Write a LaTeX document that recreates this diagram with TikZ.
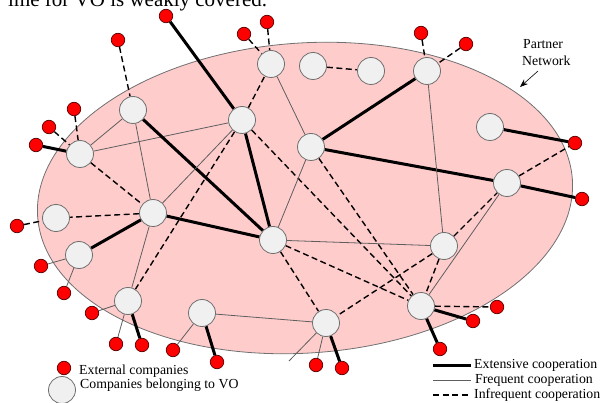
\documentclass[tikz,border=0pt]{standalone}
\usepackage{fontspec}
\setmainfont{Liberation Serif}
\usetikzlibrary{arrows.meta}
\pgfdeclarelayer{bg}
\pgfdeclarelayer{edges}
\pgfsetlayers{bg,edges,main}
\definecolor{netpink}{HTML}{FFCCCC}
\definecolor{netbord}{HTML}{707070}
\definecolor{vogray}{HTML}{F0F0F0}
\definecolor{vobord}{HTML}{6E6E6E}
\definecolor{extbord}{HTML}{5A0000}
\definecolor{freqgray}{HTML}{5E5E5E}
\begin{document}
\begin{tikzpicture}[x=1pt,y=-1pt,
  vo/.style={circle,fill=vogray,draw=vobord,line width=0.8pt,minimum size=27pt,inner sep=0pt},
  ext/.style={circle,fill=red,draw=extbord,line width=0.7pt,minimum size=13.5pt,inner sep=0pt},
  extensive/.style={line width=3pt,black},
  frequent/.style={line width=0.8pt,freqgray},
  infrequent/.style={line width=1.4pt,black,dash pattern=on 6pt off 3.5pt},
  lbl/.style={font=\fontsize{13.8}{16}\selectfont,inner sep=0pt,anchor=base west}]
\useasboundingbox (0,0) rectangle (602,403);

% clipped text line at the top
\node[font=\fontsize{21}{24}\selectfont,inner sep=0pt,anchor=base west] (toptext) at (8,6.5) {ime for VO is weakly covered.};

% ellipse
\begin{pgfonlayer}{bg}
\draw[fill=netpink,draw=netbord,line width=0.8pt,rotate around={4:(305,198)}] (305,198) ellipse [x radius=268, y radius=155];
\end{pgfonlayer}

% VO companies
\node[vo] (A) at (80,154) {};
\node[vo] (B) at (133,110) {};
\node[vo] (C) at (242,120) {};
\node[vo] (D) at (271,64) {};
\node[vo] (E) at (313,66) {};
\node[vo] (F) at (371,71) {};
\node[vo] (G) at (427,71) {};
\node[vo] (H) at (490,127) {};
\node[vo] (I) at (311,147) {};
\node[vo] (J) at (507,183) {};
\node[vo] (K) at (153,213) {};
\node[vo] (L) at (56,218) {};
\node[vo] (M) at (79,255) {};
\node[vo] (N) at (273,240) {};
\node[vo] (O) at (444,246) {};
\node[vo] (P) at (128,301) {};
\node[vo] (Q) at (202,313) {};
\node[vo] (R) at (326,323) {};
\node[vo] (S) at (421,306) {};

% external companies
\node[ext] (e1) at (118,40) {};
\node[ext] (e2) at (166,16) {};
\node[ext] (e3) at (244,34) {};
\node[ext] (e4) at (267,22) {};
\node[ext] (e5) at (74,109) {};
\node[ext] (e6) at (49,127) {};
\node[ext] (e7) at (36,145) {};
\node[ext] (e8) at (421,33) {};
\node[ext] (e9) at (466,44) {};
\node[ext] (e10) at (575,143) {};
\node[ext] (e11) at (582,199) {};
\node[ext] (e12) at (17,226) {};
\node[ext] (e13) at (41,266) {};
\node[ext] (e14) at (64,293) {};
\node[ext] (e15) at (92,313) {};
\node[ext] (e16) at (116,344) {};
\node[ext] (e17) at (142,345) {};
\node[ext] (e18) at (173,350) {};
\node[ext] (e19) at (217,362) {};
\node[ext] (e20) at (316,365) {};
\node[ext] (e21) at (342,368) {};
\node[ext] (e22) at (473,321) {};
\node[ext] (e23) at (497,307) {};
\node[ext] (e24) at (440,349) {};
\coordinate (rfree) at (289,361);

\begin{pgfonlayer}{edges}
% external links
\draw[infrequent] (e1) -- (B);
\draw[extensive] (e2) -- (C);
\draw[infrequent] (e3) -- (D);
\draw[infrequent] (e4) -- (D);
\draw[infrequent] (e5) -- (A);
\draw[infrequent] (e6) -- (A);
\draw[extensive] (e7) -- (A);
\draw[infrequent] (e8) -- (G);
\draw[infrequent] (e9) -- (G);
\draw[extensive] (H) -- (e10);
\draw[infrequent] (J) -- (e10);
\draw[extensive] (J) -- (e11);
\draw[infrequent] (e12) -- (L);
\draw[frequent] (e13) -- (M);
\draw[frequent] (e14) -- (M);
\draw[frequent] (e15) -- (P);
\draw[frequent] (e16) -- (P);
\draw[extensive] (e17) -- (P);
\draw[frequent] (e18) -- (Q);
\draw[extensive] (e19) -- (Q);
\draw[frequent] (e20) -- (R);
\draw[extensive] (e21) -- (R);
\draw[extensive] (S) -- (e22);
\draw[infrequent] (S) -- (e23);
\draw[extensive] (S) -- (e24);
\draw[frequent] (R) -- (rfree);
% internal links
\draw[frequent] (A) -- (B);
\draw[frequent] (A) -- (C);
\draw[infrequent] (A) -- (K);
\draw[frequent] (B) -- (K);
\draw[extensive] (B) -- (N);
\draw[infrequent] (C) -- (D);
\draw[frequent] (C) -- (K);
\draw[infrequent] (C) -- (P);
\draw[extensive] (C) -- (N);
\draw[infrequent] (C) -- (S);
\draw[frequent] (D) -- (I);
\draw[frequent] (I) -- (N);
\draw[extensive] (I) -- (G);
\draw[extensive] (I) -- (J);
\draw[infrequent] (I) -- (S);
\draw[infrequent] (E) -- (F);
\draw[frequent] (G) -- (O);
\draw[infrequent] (K) -- (L);
\draw[extensive] (K) -- (M);
\draw[extensive] (K) -- (N);
\draw[frequent] (K) -- (P);
\draw[frequent] (N) -- (O);
\draw[infrequent] (N) -- (S);
\draw[infrequent] (N) -- (R);
\draw[infrequent] (O) -- (J);
\draw[infrequent] (O) -- (S);
\draw[infrequent] (O) -- (R);
\draw[frequent] (J) -- (S);
\draw[frequent] (Q) -- (R);
\end{pgfonlayer}

% Partner Network label
\node[lbl] (pn1) at (523,49) {Partner};
\node[lbl] (pn2) at (522,66) {Network};
\coordinate (pnfrom) at (538,71);
\coordinate (pnto) at (520,87);
\draw[line width=0.6pt,-{Stealth[length=8pt,width=6pt]}] (pnfrom) -- (pnto);

% legend left
\node[ext] (legext) at (64,368) {};
\node[lbl] (legexttxt) at (79,374) {External companies};
\node[vo] (legvo) at (62,390) {};
\node[lbl] (legvotxt) at (80,388.5) {Companies belonging to VO};

% legend right
\coordinate (l1a) at (433,365.5); \coordinate (l1b) at (471,365.5);
\coordinate (l2a) at (433,380.5); \coordinate (l2b) at (471,380.5);
\coordinate (l3a) at (433,395); \coordinate (l3b) at (471,395);
\draw[extensive] (l1a) -- (l1b);
\draw[frequent] (l2a) -- (l2b);
\draw[infrequent] (l3a) -- (l3b);
\node[lbl] (lt1) at (474,368) {Extensive cooperation};
\node[lbl] (lt2) at (475,383) {Frequent cooperation};
\node[lbl] (lt3) at (474,398) {Infrequent cooperation};
\end{tikzpicture}
\end{document}
